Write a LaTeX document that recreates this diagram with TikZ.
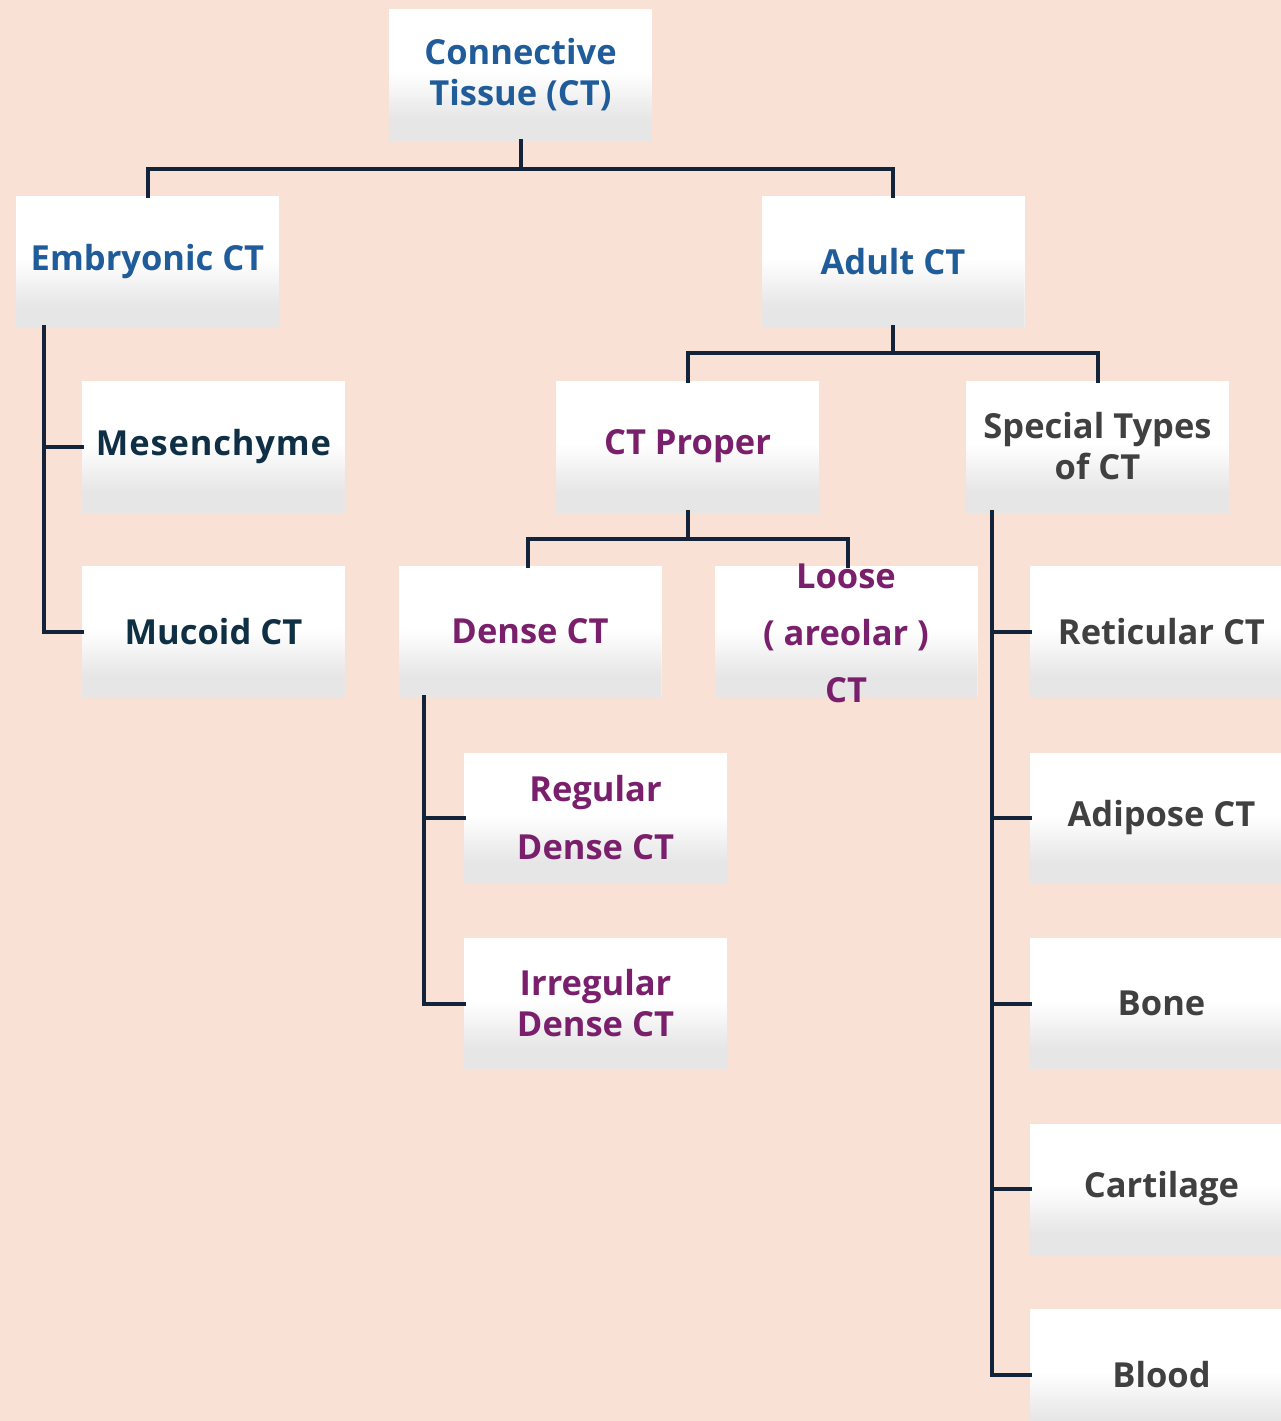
\documentclass[tikz,border=0pt]{standalone}
\usepackage{fontspec}
\setmainfont{Open Sans}
\definecolor{bg}{HTML}{FAE1D5}
\definecolor{ctblue}{HTML}{1F5C99}
\definecolor{ctnavy}{HTML}{0E2F44}
\definecolor{ctpurple}{HTML}{7A1F6C}
\definecolor{ctgray}{HTML}{404040}
\definecolor{linec}{HTML}{13243A}
\definecolor{boxgray}{HTML}{E6E6E6}
\begin{document}
\begin{tikzpicture}[x=1pt,y=-1pt,
  box/.style={rectangle, minimum width=263pt, minimum height=131pt, inner sep=0pt,
    align=center, fill=white, font=\fontsize{34.5}{41}\selectfont\bfseries,
    path picture={\foreach \i in {0,...,36}{
        \pgfmathsetmacro\p{min(100,\i*100/24)}
        \fill[boxgray!\p!white] ([yshift=-\i*2pt+4pt]path picture bounding box.west)
          rectangle ([yshift=-\i*2pt+1.6pt]path picture bounding box.east);}}},
  conn/.style={draw=linec, line width=4pt, line cap=rect}]
\fill[bg] (0,0) rectangle (1281,1421);
\useasboundingbox (0,0) rectangle (1281,1421);

\node[box, text=ctblue] (root) at (520.5,75) {Connective\\Tissue (CT)};
\node[box, text=ctblue] (emb) at (147.5,261.5) {Embryonic CT};
\node[box, text=ctblue] (adult) at (893,261.5) {Adult CT};
\node[box, text=ctnavy] (mes) at (213.5,446.5) {\addfontfeature{LetterSpace=2.5}Mesenchyme};
\node[box, text=ctnavy] (muc) at (213.5,631.5) {Mucoid CT};
\node[box, text=ctpurple] (proper) at (687.5,446.5) {CT Proper};
\node[box, text=ctgray] (special) at (1097.5,446.5) {Special Types\\of CT};
\node[box, text=ctpurple] (dense) at (530,631.5) {Dense CT};
\node[box, text=ctpurple] (loose) at (846,631.5)
  {\smash{\raisebox{-8pt}{\parbox[c]{263pt}{\centering\fontsize{34.5}{57}\selectfont\bfseries Loose\\( areolar )\\CT}}}};
\node[box, text=ctpurple, font=\fontsize{34.5}{58}\selectfont\bfseries] (reg) at (595.5,818) {Regular\\Dense CT};
\node[box, text=ctpurple] (irr) at (595.5,1003.5) {Irregular\\Dense CT};
\node[box, text=ctgray] (ret) at (1161.5,631.5) {Reticular CT};
\node[box, text=ctgray] (adi) at (1161.5,818) {Adipose CT};
\node[box, text=ctgray] (bone) at (1161.5,1003.5) {Bone};
\node[box, text=ctgray] (cart) at (1161.5,1189) {Cartilage};
\node[box, text=ctgray] (blood) at (1161.5,1374.5) {Blood};

% root
\draw[conn] (root.south) -- ++(0,28) coordinate (rj);
\draw[conn] (emb.north) |- (rj) -| (adult.north);
% embryonic
\coordinate (ev) at ([xshift=-104pt]emb.south);
\draw[conn] (ev) |- (mes.west);
\draw[conn] (ev) |- (muc.west);
% adult
\draw[conn] (adult.south) -- ++(0,26) coordinate (aj);
\draw[conn] (proper.north) |- (aj) -| (special.north);
% ct proper
\draw[conn] (proper.south) -- ++(0,27) coordinate (pj);
\draw[conn] ([xshift=-2pt]dense.north) |- (pj) -| ([xshift=2pt]loose.north);
% dense
\coordinate (dv) at ([xshift=-106pt]dense.south);
\draw[conn] (dv) |- (reg.west);
\draw[conn] (dv) |- (irr.west);
% special
\coordinate (sv) at ([xshift=-105.5pt]special.south);
\draw[conn] (sv) |- (ret.west);
\draw[conn] (sv) |- (adi.west);
\draw[conn] (sv) |- (bone.west);
\draw[conn] (sv) |- (cart.west);
\draw[conn] (sv) |- (blood.west);
\end{tikzpicture}
\end{document}
